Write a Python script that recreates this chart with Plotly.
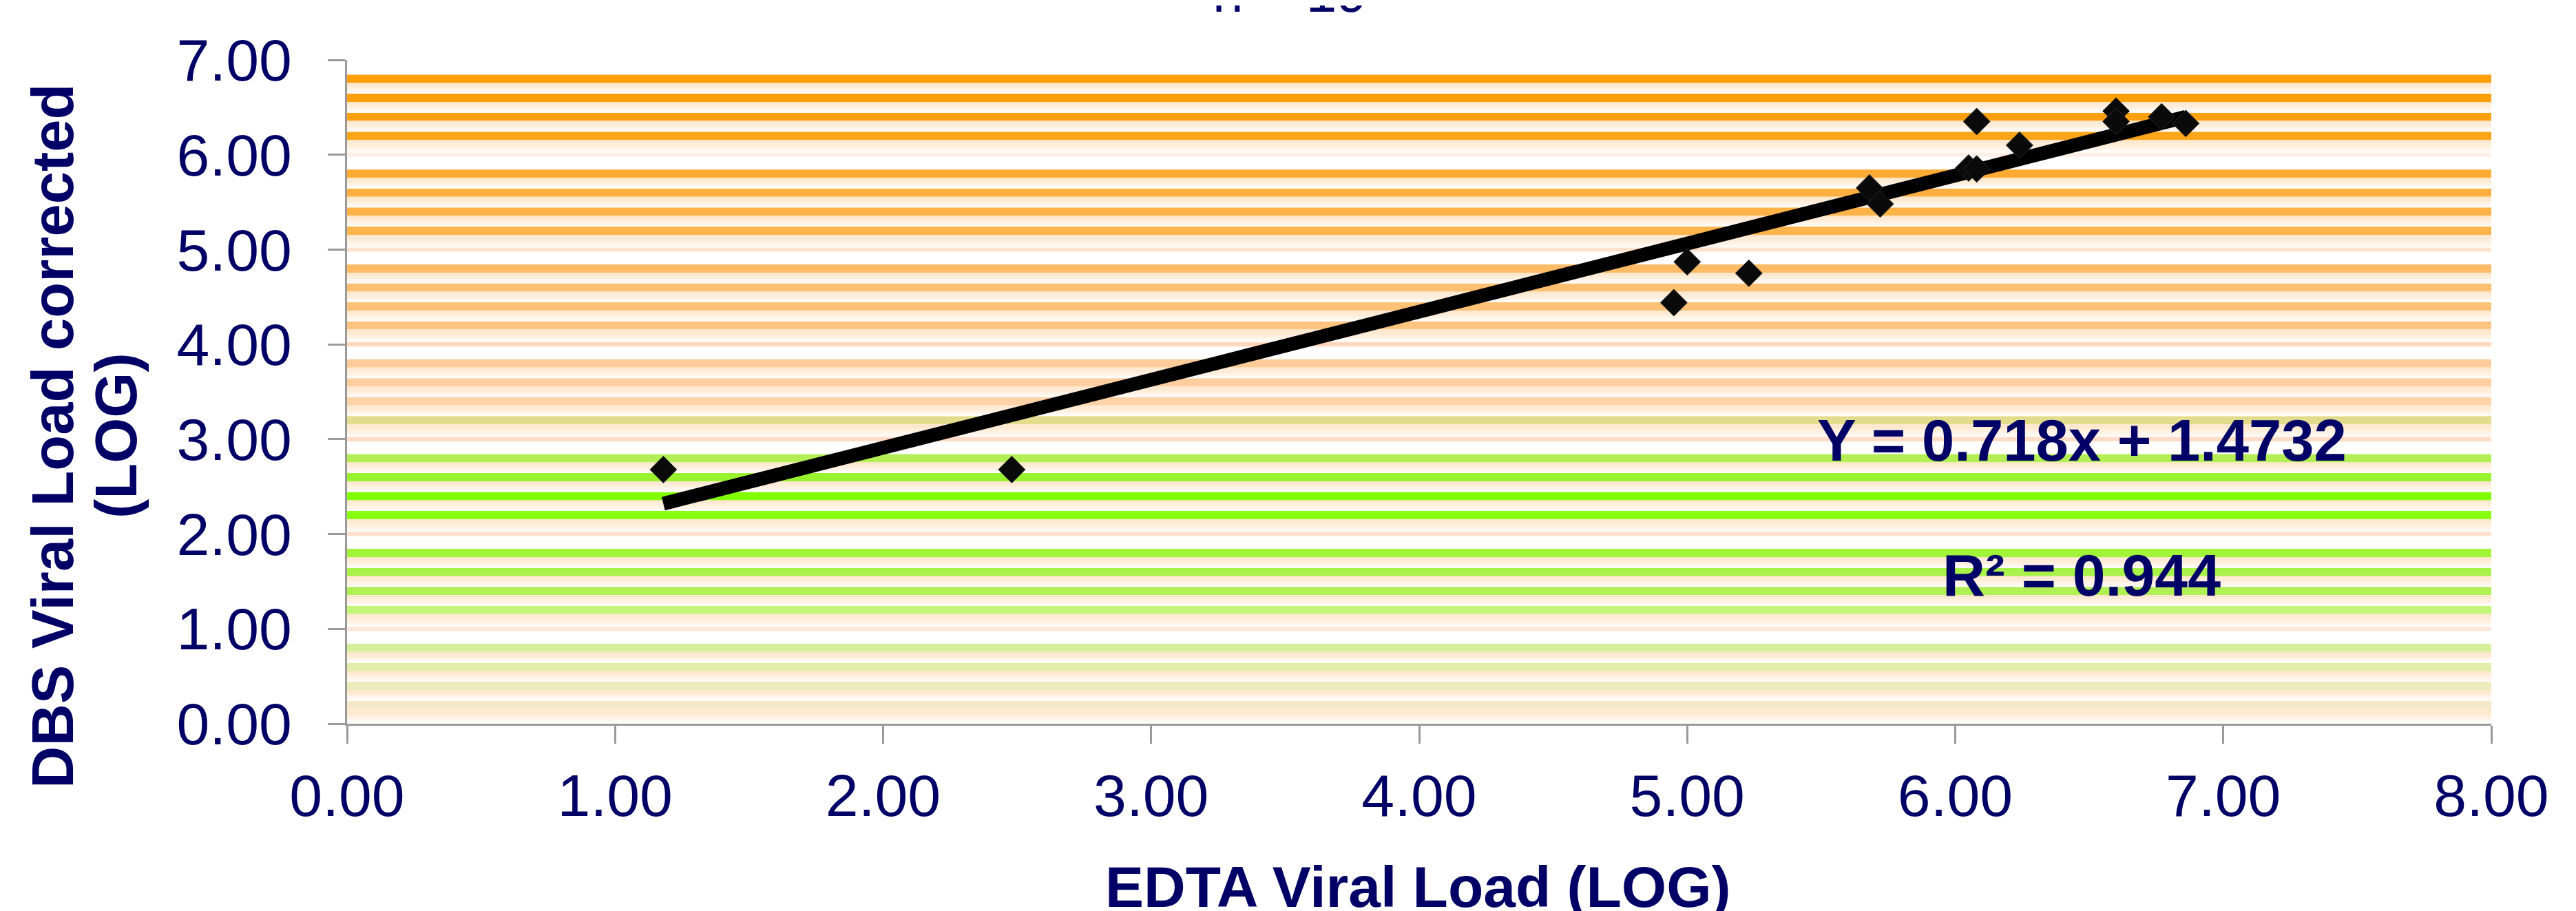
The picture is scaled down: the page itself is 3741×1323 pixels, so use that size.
import plotly.graph_objects as go

# ---------------- data ----------------
EDTA_LOG = [1.18, 2.48, 4.95, 5.00, 5.23, 5.68, 5.72, 6.05, 6.08, 6.08, 6.24, 6.60, 6.60, 6.77, 6.86]
DBS_LOG = [2.68, 2.68, 4.44, 4.87, 4.75, 5.65, 5.48, 5.86, 5.85, 6.35, 6.10, 6.46, 6.35, 6.40, 6.33]

SLOPE = 0.718
INTERCEPT = 1.4732
R2 = 0.944
N_SAMPLES = 19

X_TICKS = [0, 1, 2, 3, 4, 5, 6, 7, 8]
X_TICK_LABELS = ["0.00", "1.00", "2.00", "3.00", "4.00", "5.00", "6.00", "7.00", "8.00"]
Y_TICKS = [0, 1, 2, 3, 4, 5, 6, 7]
Y_TICK_LABELS = ["0.00", "1.00", "2.00", "3.00", "4.00", "5.00", "6.00", "7.00"]

X_TITLE = "EDTA Viral Load (LOG)"
Y_TITLE_LINE1 = "DBS Viral Load corrected"
Y_TITLE_LINE2 = "(LOG)"

# ---------------- style ----------------
NAVY = "#000066"
FONT = "Liberation Sans, Arial, sans-serif"
AXIS_GRAY = "#9a9a9a"

# background stripe colours, from 0.2 up to 6.8 (skipping whole numbers)
STRIPE_COLORS = {
    0.2: "#F5E8C8", 0.4: "#EBEBBB", 0.6: "#E2EDAA", 0.8: "#D6F09A",
    1.2: "#C3F57A", 1.4: "#B0F055", 1.6: "#A8F24A", 1.8: "#A0F53A",
    2.2: "#88FF11", 2.4: "#80FF00", 2.6: "#99F22E", 2.8: "#B3EE55",
    3.2: "#E3DC8C", 3.4: "#FFD2A8", 3.6: "#FFCE9E", 3.8: "#FFCC99",
    4.2: "#FFC47D", 4.4: "#FFC175", 4.6: "#FFBF70", 4.8: "#FFBB66",
    5.2: "#FFB54D", 5.4: "#FFB347", 5.6: "#FFAF40", 5.8: "#FFAA33",
    6.2: "#FFA51A", 6.4: "#FFA010", 6.6: "#FF9F0A", 6.8: "#FF9E05",
}
LINE_COLORS = {1: "#FFE6D8", 2: "#FFE0CC", 3: "#FFDCC5", 4: "#FFD8BB", 5: "#FFE2CC", 6: "#FDEEE6"}
FADE_TOP = (255, 229, 200)
STRIPE_HALF = 0.0435
LINE_HALF = 0.022
FADE_STEPS = 10


def mix(c, t):
    r, g, b = c
    return "rgb(%d,%d,%d)" % (round(r + (255 - r) * t), round(g + (255 - g) * t), round(b + (255 - b) * t))


shapes = []
for center, col in STRIPE_COLORS.items():
    top = center + STRIPE_HALF
    bot = center - STRIPE_HALF
    shapes.append(dict(type="rect", xref="paper", yref="y", x0=0, x1=1, y0=bot, y1=top,
                       fillcolor=col, line=dict(width=0), layer="below"))
    below = round(center - 0.2, 1)
    if abs(below - round(below)) < 1e-6:
        fade_end = below + LINE_HALF if below > 0 else 0.0
    else:
        fade_end = below + STRIPE_HALF
    h = (bot - fade_end) / FADE_STEPS
    for i in range(FADE_STEPS):
        t = ((i + 0.5) / FADE_STEPS) ** 1.6
        shapes.append(dict(type="rect", xref="paper", yref="y", x0=0, x1=1,
                           y0=bot - (i + 1) * h, y1=bot - i * h,
                           fillcolor=mix(FADE_TOP, t),
                           line=dict(width=0), layer="below"))
for k, col in LINE_COLORS.items():
    shapes.append(dict(type="rect", xref="paper", yref="y", x0=0, x1=1, y0=k - LINE_HALF, y1=k + LINE_HALF,
                       fillcolor=col, line=dict(width=0), layer="below"))

fig = go.Figure()

x_lo, x_hi = min(EDTA_LOG), max(EDTA_LOG)
fig.add_trace(go.Scatter(
    x=[x_lo, x_hi], y=[SLOPE * x_lo + INTERCEPT, SLOPE * x_hi + INTERCEPT],
    mode="lines", line=dict(color="black", width=20), hoverinfo="skip", showlegend=False))

fig.add_trace(go.Scatter(
    x=EDTA_LOG, y=DBS_LOG, mode="markers",
    marker=dict(symbol="diamond", size=30, color="#0a0a0a", line=dict(color="#2a2a2a", width=1)),
    showlegend=False))

axis_common = dict(
    showline=True, linecolor=AXIS_GRAY, linewidth=3, ticks="outside", tickcolor=AXIS_GRAY,
    tickwidth=3, showgrid=False, zeroline=False,
    tickfont=dict(family=FONT, size=86, color=NAVY),
)
fig.update_xaxes(range=[0, 8], tickvals=X_TICKS, ticktext=X_TICK_LABELS, ticklen=26,
                 ticklabelstandoff=2, **axis_common)
fig.update_yaxes(range=[0, 7], tickvals=Y_TICKS, ticktext=Y_TICK_LABELS, ticklen=25,
                 ticklabelstandoff=35, **axis_common)

W, H = 3741, 1323
ML, MR, MT, MB = 496, 131, 79, 280
PW, PH = W - ML - MR, H - MT - MB


def px(xp):
    return (xp - ML) / PW


def py(yp):
    return (H - MB - yp) / PH


annotations = [
    dict(text="n = %d" % N_SAMPLES, x=px(1865), y=py(28), xref="paper", yref="paper",
         xanchor="center", yanchor="bottom", showarrow=False,
         font=dict(family=FONT, size=80, color=NAVY)),
    dict(text="<b>%s</b>" % X_TITLE, x=px(2051), y=py(1280), xref="paper", yref="paper",
         xanchor="center", yanchor="middle", showarrow=False,
         font=dict(family=FONT, size=84, color=NAVY)),
    dict(text="<b>%s</b>" % Y_TITLE_LINE1, x=px(68), y=py(625), xref="paper", yref="paper",
         xanchor="center", yanchor="middle", showarrow=False, textangle=-90,
         font=dict(family=FONT, size=85, color=NAVY)),
    dict(text="<b>%s</b>" % Y_TITLE_LINE2, x=px(160), y=py(625), xref="paper", yref="paper",
         xanchor="center", yanchor="middle", showarrow=False, textangle=-90,
         font=dict(family=FONT, size=85, color=NAVY)),
    dict(text="<b>Y = %sx + %s</b>" % (SLOPE, INTERCEPT), x=px(3015), y=py(631), xref="paper", yref="paper",
         xanchor="center", yanchor="middle", showarrow=False,
         font=dict(family=FONT, size=85, color=NAVY)),
    dict(text="<b>R² = %s</b>" % R2, x=px(3015), y=py(827), xref="paper", yref="paper",
         xanchor="center", yanchor="middle", showarrow=False,
         font=dict(family=FONT, size=86, color=NAVY)),
]

fig.update_layout(
    width=W, height=H,
    margin=dict(l=ML, r=MR, t=MT, b=MB),
    paper_bgcolor="white", plot_bgcolor="white",
    shapes=shapes, annotations=annotations,
    showlegend=False,
)

fig.write_html("out.html")
